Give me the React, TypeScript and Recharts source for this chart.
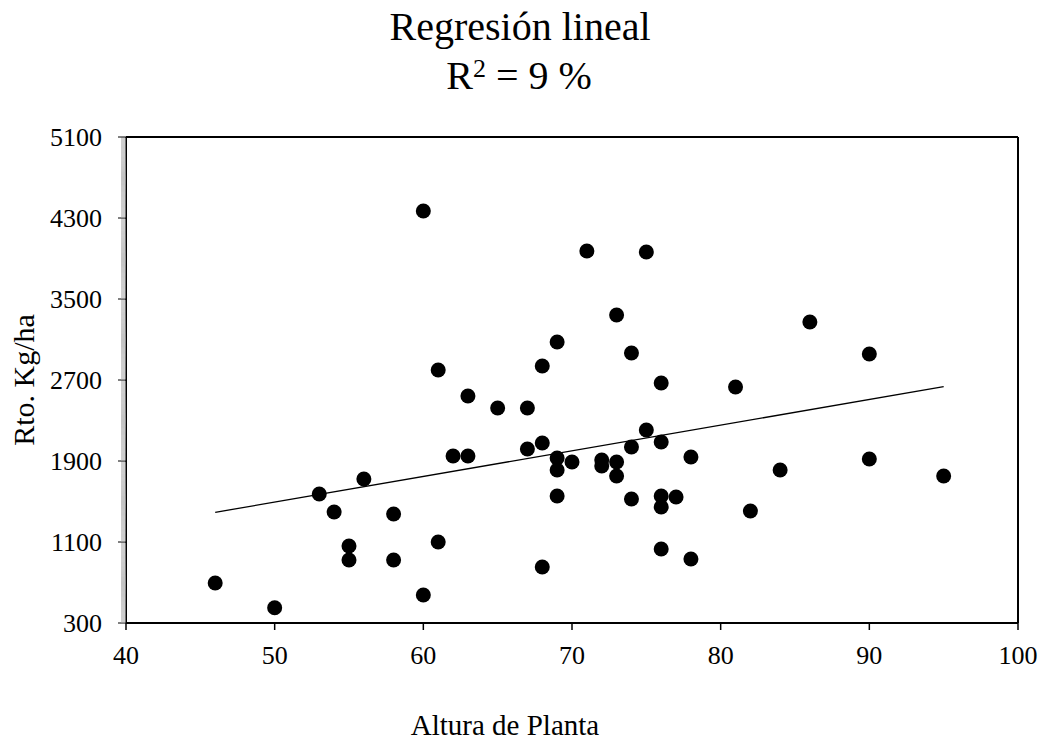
import { ScatterChart, Scatter, XAxis, YAxis, ReferenceLine } from "recharts";

const SERIF = "'Liberation Serif', 'Times New Roman', serif";

// Altura de planta (cm) vs rendimiento (Kg/ha)
const altura = [
  46, 50, 53, 54, 55, 55, 56, 58, 58, 60, 60, 61, 61, 62, 63, 63, 65, 67, 67, 68, 68, 68, 69, 69, 69, 69, 70,
  71, 72, 72, 73, 73, 73, 74, 74, 74, 75, 75, 76, 76, 76, 76, 76, 77, 78, 78, 81, 82, 84, 86, 90, 90, 95,
];
const rendimiento = [
  695, 450, 1574, 1396, 1060, 922, 1722, 1377, 922, 577, 4369, 1100, 2799, 1949, 1949, 2542, 2423, 2423, 2019,
  2078, 2838, 853, 3075, 1930, 1811, 1554, 1890, 3974, 1910, 1851, 3342, 1890, 1752, 2967, 2038, 1525, 3964,
  2206, 2670, 2088, 1554, 1446, 1031, 1544, 1940, 932, 2631, 1406, 1811, 3273, 2957, 1920, 1752,
];
const tendencia = [
  { x: 46, y: 1393 },
  { x: 95, y: 2634 },
];
const xTicks = [40, 50, 60, 70, 80, 90, 100];
const yTicks = [300, 1100, 1900, 2700, 3500, 4300, 5100];
const yMinor = Array.from({ length: 481 }, (_, i) => 300 + i * 10);

const puntos = altura.map((x, i) => ({ x, y: rendimiento[i] }));

function YTick({ x, y, payload }: any) {
  const major = yTicks.includes(payload.value);
  return (
    <g>
      <line
        x1={x - (major ? 8 : 5)}
        x2={x}
        y1={y}
        y2={y}
        stroke={major ? "#000" : "#b4b4b4"}
        strokeWidth={major ? 1 : 0.8}
      />
      {major && (
        <text x={x - 24} y={y} dy="0.34em" textAnchor="end" fill="#000" fontSize={26} fontFamily={SERIF}>
          {payload.value}
        </text>
      )}
    </g>
  );
}

export default function App() {
  return (
    <div
      style={{
        position: "absolute",
        left: 0,
        top: 0,
        width: 1044,
        height: 742,
        overflow: "hidden",
        background: "#fff",
      }}
    >
      <ScatterChart width={1044} height={742} margin={{ top: 137, right: 26, bottom: 89, left: 66 }}>
        <XAxis
          type="number"
          dataKey="x"
          domain={[40, 100]}
          ticks={xTicks}
          height={30}
          tickSize={7}
          tickMargin={16}
          axisLine={{ stroke: "#000", strokeWidth: 2 }}
          tickLine={{ stroke: "#000", strokeWidth: 1.5 }}
          tick={{ fill: "#000", fontSize: 26, fontFamily: SERIF }}
        />
        <YAxis
          type="number"
          dataKey="y"
          domain={[300, 5100]}
          ticks={yMinor}
          interval={0}
          width={60}
          tickSize={0}
          tickMargin={0}
          tickLine={false}
          axisLine={{ stroke: "#000", strokeWidth: 2 }}
          tick={<YTick />}
        />
        <ReferenceLine y={5100} stroke="#000" strokeWidth={2} />
        <ReferenceLine x={100} stroke="#000" strokeWidth={2} />
        <Scatter
          data={tendencia}
          line={{ stroke: "#000", strokeWidth: 1.3 }}
          shape={() => <g />}
          isAnimationActive={false}
        />
        <Scatter
          data={puntos}
          shape={(p: any) => <circle cx={p.cx} cy={p.cy} r={7.5} fill="#000" />}
          isAnimationActive={false}
        />
      </ScatterChart>
      <svg
        width={1044}
        height={742}
        style={{ position: "absolute", left: 0, top: 0, pointerEvents: "none" }}
      >
        <text x={520} y={40} textAnchor="middle" fontSize={40} fontFamily={SERIF} fill="#000">
          Regresión lineal
        </text>
        <text x={519} y={89} textAnchor="middle" fontSize={40} fontFamily={SERIF} fill="#000">
          R
          <tspan fontSize={26} dy={-12}>
            2
          </tspan>
          <tspan dy={12}> = 9 %</tspan>
        </text>
        <text
          x={34}
          y={380}
          textAnchor="middle"
          fontSize={30}
          fontFamily={SERIF}
          fill="#000"
          transform="rotate(-90, 34, 380)"
        >
          Rto. Kg/ha
        </text>
        <text x={505} y={735} textAnchor="middle" fontSize={29} fontFamily={SERIF} fill="#000">
          Altura de Planta
        </text>
      </svg>
    </div>
  );
}
